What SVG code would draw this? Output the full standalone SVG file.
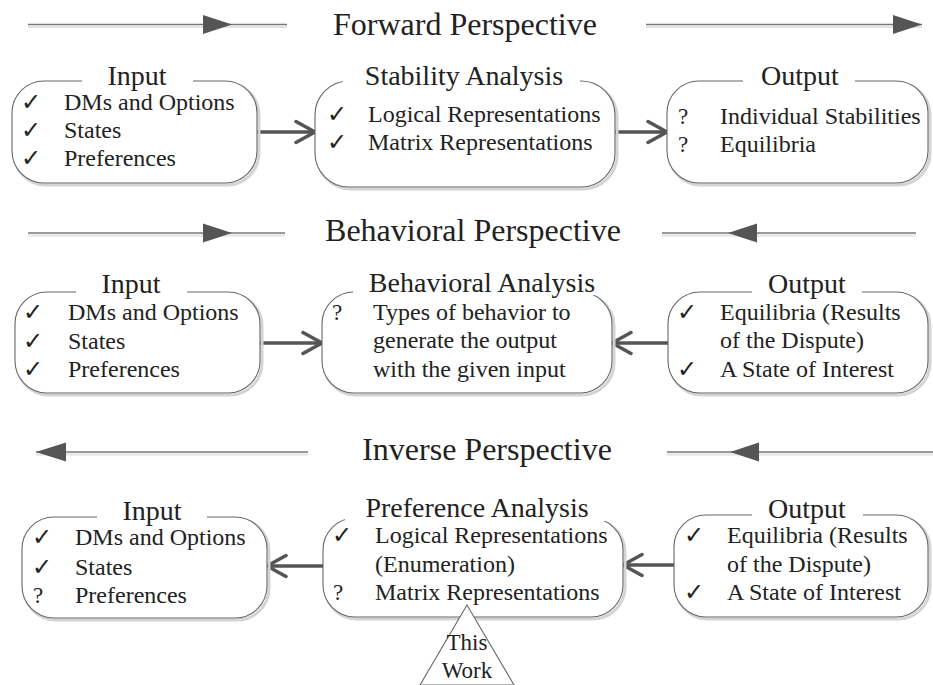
<svg xmlns="http://www.w3.org/2000/svg" width="933" height="685" viewBox="0 0 933 685">
<defs>
<marker id="open" viewBox="0 0 24 26" refX="22" refY="13" markerWidth="24" markerHeight="26" markerUnits="userSpaceOnUse" orient="auto">
<path d="M3,2.5 L22,13 L3,23.5" fill="none" stroke="#555" stroke-width="3.5" stroke-linecap="round" stroke-linejoin="round"/>
</marker>
</defs>
<style>
.hl{stroke:#777;stroke-width:1.3;fill:none}
.hs{stroke:#e2e2e2;stroke-width:2;fill:none}
.ht{fill:#555}
.head{font-family:"Liberation Serif","Times New Roman",serif;font-size:32px;fill:#222;text-anchor:middle}
.title{font-family:"Liberation Serif","Times New Roman",serif;font-size:28px;fill:#222;text-anchor:middle}
.t{font-family:"Liberation Serif","Times New Roman",serif;font-size:24px;fill:#222}
.q{font-family:"Liberation Serif","Times New Roman",serif;font-size:23px;fill:#222}
.ck{font-family:"DejaVu Sans",sans-serif;font-size:24px;fill:#222}
.box{fill:#fff;stroke:#666;stroke-width:1.1}
.sh{fill:none;stroke:#d4d4d4;stroke-width:3}
.gap{fill:#fff}
.conn{stroke:#555;stroke-width:3.5;fill:none}
.tri{fill:#fff;stroke:#666;stroke-width:1.1}
.wk{font-family:"Liberation Serif","Times New Roman",serif;font-size:23px;fill:#222;text-anchor:middle}
</style>

<g id="headers">
  <g id="h-forward">
    <line class="hs" x1="28" y1="27" x2="287" y2="27"/>
    <line class="hl" x1="28" y1="24.5" x2="287" y2="24.5"/>
    <polygon class="ht" points="203,15 232,24.5 203,34"/>
    <text class="head" x="465" y="35">Forward Perspective</text>
    <line class="hs" x1="646" y1="27" x2="922" y2="27"/>
    <line class="hl" x1="646" y1="24.5" x2="922" y2="24.5"/>
    <polygon class="ht" points="893,15 922,24.5 893,34"/>
  </g>
  <g id="h-behavioral">
    <line class="hs" x1="28" y1="235.5" x2="285" y2="235.5"/>
    <line class="hl" x1="28" y1="233" x2="285" y2="233"/>
    <polygon class="ht" points="203,223.5 232,233 203,242.5"/>
    <text class="head" x="473" y="241">Behavioral Perspective</text>
    <line class="hs" x1="662" y1="235.5" x2="916" y2="235.5"/>
    <line class="hl" x1="662" y1="233" x2="916" y2="233"/>
    <polygon class="ht" points="757,223.5 728,233 757,242.5"/>
  </g>
  <g id="h-inverse">
    <line class="hs" x1="36" y1="454.5" x2="308" y2="454.5"/>
    <line class="hl" x1="36" y1="452" x2="308" y2="452"/>
    <polygon class="ht" points="66,442.5 36,452 66,461.5"/>
    <text class="head" x="487" y="460">Inverse Perspective</text>
    <line class="hs" x1="667" y1="454.5" x2="933" y2="454.5"/>
    <line class="hl" x1="667" y1="452" x2="933" y2="452"/>
    <polygon class="ht" points="759,442.5 730,452 759,461.5"/>
  </g>
</g>

<g id="connectors">
  <line class="conn" x1="257" y1="132" x2="315" y2="132" marker-end="url(#open)"/>
  <line class="conn" x1="615" y1="132" x2="667" y2="132" marker-end="url(#open)"/>
  <line class="conn" x1="260" y1="343" x2="322" y2="343" marker-end="url(#open)"/>
  <line class="conn" x1="668" y1="343" x2="612" y2="343" marker-end="url(#open)"/>
  <line class="conn" x1="323" y1="566" x2="267" y2="566" marker-end="url(#open)"/>
  <line class="conn" x1="674" y1="565" x2="623" y2="565" marker-end="url(#open)"/>
</g>

<!-- Row 1 -->
<g id="input-forward">
  <rect class="sh" x="14" y="83" width="245" height="102" rx="32"/>
  <rect class="box" x="12" y="81" width="245" height="102" rx="32"/>
  <rect class="gap" x="82" y="76" width="111" height="8"/>
  <text class="title" x="137" y="85">Input</text>
  <text class="ck" x="21" y="110">✓</text><text class="t" x="64" y="110">DMs and Options</text>
  <text class="ck" x="21" y="138">✓</text><text class="t" x="64" y="138">States</text>
  <text class="ck" x="21" y="166">✓</text><text class="t" x="64" y="166">Preferences</text>
</g>
<g id="stability-analysis">
  <rect class="sh" x="317" y="83" width="300" height="106" rx="34"/>
  <rect class="box" x="315" y="81" width="300" height="106" rx="34"/>
  <rect class="gap" x="343" y="76" width="237" height="8"/>
  <text class="title" x="464" y="85">Stability Analysis</text>
  <text class="ck" x="327" y="122">✓</text><text class="t" x="368" y="122">Logical Representations</text>
  <text class="ck" x="327" y="150">✓</text><text class="t" x="368" y="150">Matrix Representations</text>
</g>
<g id="output-forward">
  <rect class="sh" x="669" y="83" width="261" height="102" rx="32"/>
  <rect class="box" x="667" y="81" width="261" height="102" rx="32"/>
  <rect class="gap" x="743" y="76" width="112" height="8"/>
  <text class="title" x="800" y="85">Output</text>
  <text class="q" x="678" y="124">?</text><text class="t" x="720" y="124">Individual Stabilities</text>
  <text class="q" x="678" y="152">?</text><text class="t" x="720" y="152">Equilibria</text>
</g>

<!-- Row 2 -->
<g id="input-behavioral">
  <rect class="sh" x="17" y="294" width="245" height="101" rx="32"/>
  <rect class="box" x="15" y="292" width="245" height="101" rx="32"/>
  <rect class="gap" x="76" y="287" width="111" height="8"/>
  <text class="title" x="131" y="293">Input</text>
  <text class="ck" x="23" y="320">✓</text><text class="t" x="68" y="320">DMs and Options</text>
  <text class="ck" x="23" y="349">✓</text><text class="t" x="68" y="349">States</text>
  <text class="ck" x="23" y="377">✓</text><text class="t" x="68" y="377">Preferences</text>
</g>
<g id="behavioral-analysis">
  <rect class="sh" x="324" y="294" width="290" height="101" rx="32"/>
  <rect class="box" x="322" y="292" width="290" height="101" rx="32"/>
  <rect class="gap" x="353" y="287" width="249" height="8"/>
  <text class="title" x="482" y="292">Behavioral Analysis</text>
  <text class="q" x="332" y="320">?</text><text class="t" x="373" y="320">Types of behavior to</text>
  <text class="t" x="373" y="348">generate the output</text>
  <text class="t" x="373" y="377">with the given input</text>
</g>
<g id="output-behavioral">
  <rect class="sh" x="670" y="294" width="260" height="101" rx="32"/>
  <rect class="box" x="668" y="292" width="260" height="101" rx="32"/>
  <rect class="gap" x="752" y="287" width="110" height="8"/>
  <text class="title" x="807" y="293">Output</text>
  <text class="ck" x="677" y="320">✓</text><text class="t" x="720" y="320">Equilibria (Results</text>
  <text class="t" x="720" y="348">of the Dispute)</text>
  <text class="ck" x="677" y="377">✓</text><text class="t" x="720" y="377">A State of Interest</text>
</g>

<!-- Row 3 -->
<g id="input-inverse">
  <rect class="sh" x="24" y="519" width="245" height="101" rx="32"/>
  <rect class="box" x="22" y="517" width="245" height="101" rx="32"/>
  <rect class="gap" x="97" y="512" width="110" height="8"/>
  <text class="title" x="152" y="520">Input</text>
  <text class="ck" x="32" y="545">✓</text><text class="t" x="75" y="545">DMs and Options</text>
  <text class="ck" x="32" y="575">✓</text><text class="t" x="75" y="575">States</text>
  <text class="q" x="33" y="603">?</text><text class="t" x="75" y="603">Preferences</text>
</g>
<g id="preference-analysis">
  <rect class="sh" x="325" y="520" width="300" height="99" rx="32"/>
  <rect class="box" x="323" y="518" width="300" height="99" rx="32"/>
  <rect class="gap" x="345" y="513" width="263" height="8"/>
  <text class="title" x="477" y="517">Preference Analysis</text>
  <text class="ck" x="332" y="543">✓</text><text class="t" x="375" y="543">Logical Representations</text>
  <text class="t" x="375" y="572">(Enumeration)</text>
  <text class="q" x="333" y="600">?</text><text class="t" x="375" y="600">Matrix Representations</text>
</g>
<g id="output-inverse">
  <rect class="sh" x="676" y="517" width="254" height="102" rx="32"/>
  <rect class="box" x="674" y="515" width="254" height="102" rx="32"/>
  <rect class="gap" x="752" y="510" width="111" height="8"/>
  <text class="title" x="807" y="518">Output</text>
  <text class="ck" x="684" y="543">✓</text><text class="t" x="727" y="543">Equilibria (Results</text>
  <text class="t" x="727" y="572">of the Dispute)</text>
  <text class="ck" x="684" y="600">✓</text><text class="t" x="727" y="600">A State of Interest</text>
</g>

<g id="this-work">
  <polygon class="tri" points="467,605 420,685 514,685"/>
  <text class="wk" x="467" y="650">This</text>
  <text class="wk" x="467" y="678">Work</text>
</g>
</svg>
